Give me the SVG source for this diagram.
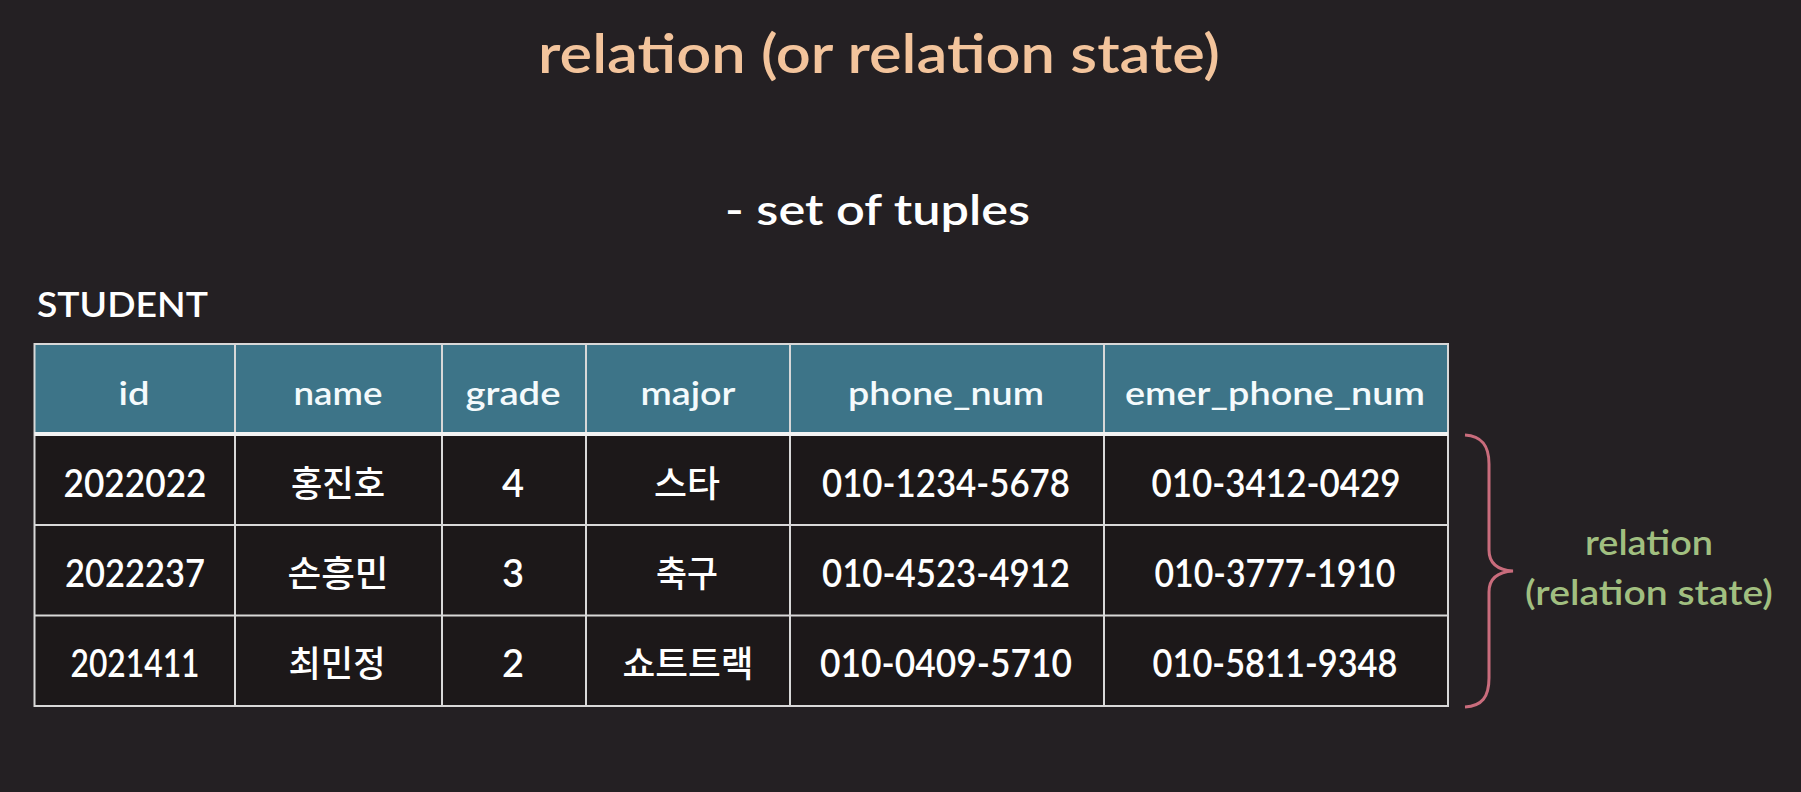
<svg xmlns="http://www.w3.org/2000/svg" width="1801" height="792" viewBox="0 0 1801 792">
<style>
  .lat { font-family: Lato, "Open Sans", "Liberation Sans", sans-serif; font-weight: 600; }
  .kr { font-family: Lato, "Noto Sans CJK KR", sans-serif; font-weight: 500; }
  .title { font-size: 54px; fill: #F3C49C; }
  .sub { font-size: 42px; fill: #FFFFFF; }
  .lbl { font-size: 34px; fill: #FFFFFF; }
  .hd { font-size: 32px; fill: #F4FAFC; text-anchor: middle; }
  .cell { font-size: 38px; fill: #FFFFFF; text-anchor: middle; }
  .krc { font-size: 36px; fill: #FFFFFF; text-anchor: middle; }
  .green { font-size: 34px; fill: #A1BF80; text-anchor: middle; }
  .grid { stroke: #D8D8D8; stroke-width: 2; fill: none; }
</style>
<rect x="0" y="0" width="1801" height="792" fill="#242023"/>

<text class="lat title" x="538" y="73" textLength="682" lengthAdjust="spacingAndGlyphs">relation (or relation state)</text>
<text class="lat sub" x="725" y="225" textLength="305" lengthAdjust="spacingAndGlyphs">- set of tuples</text>
<text class="lat lbl" x="37" y="317" textLength="171" lengthAdjust="spacingAndGlyphs">STUDENT</text>

<g id="student-table">
  <rect x="34.5" y="344" width="1413.5" height="90" fill="#3D7488"/>
  <rect x="34.5" y="434" width="1413.5" height="272" fill="#1C1819"/>
  <g class="grid">
    <rect x="34.5" y="344" width="1413.5" height="362"/>
    <line x1="34.5" y1="525" x2="1448" y2="525"/>
    <line x1="34.5" y1="615.5" x2="1448" y2="615.5"/>
    <line x1="235" y1="344" x2="235" y2="706"/>
    <line x1="442" y1="344" x2="442" y2="706"/>
    <line x1="586" y1="344" x2="586" y2="706"/>
    <line x1="790" y1="344" x2="790" y2="706"/>
    <line x1="1104" y1="344" x2="1104" y2="706"/>
  </g>
  <line x1="34.5" y1="434" x2="1448" y2="434" stroke="#F2F2F2" stroke-width="4"/>

  <g id="header">
    <text class="lat hd" x="134" y="405" textLength="31" lengthAdjust="spacingAndGlyphs">id</text>
    <text class="lat hd" x="338" y="405" textLength="89" lengthAdjust="spacingAndGlyphs">name</text>
    <text class="lat hd" x="513" y="405" textLength="95" lengthAdjust="spacingAndGlyphs">grade</text>
    <text class="lat hd" x="688" y="405" textLength="95" lengthAdjust="spacingAndGlyphs">major</text>
    <text class="lat hd" x="946" y="405" textLength="196" lengthAdjust="spacingAndGlyphs">phone_num</text>
    <text class="lat hd" x="1275" y="405" textLength="300" lengthAdjust="spacingAndGlyphs">emer_phone_num</text>
  </g>

  <g id="row1">
    <text class="lat cell" x="135" y="497" textLength="143" lengthAdjust="spacingAndGlyphs">2022022</text>
    <text class="kr krc" x="338" y="497" textLength="94" lengthAdjust="spacingAndGlyphs">홍진호</text>
    <text class="lat cell" x="513" y="497">4</text>
    <text class="kr krc" x="687" y="497" textLength="66" lengthAdjust="spacingAndGlyphs">스타</text>
    <text class="lat cell" x="946" y="497" textLength="248" lengthAdjust="spacingAndGlyphs">010-1234-5678</text>
    <text class="lat cell" x="1276" y="497" textLength="249" lengthAdjust="spacingAndGlyphs">010-3412-0429</text>
  </g>
  <g id="row2">
    <text class="lat cell" x="135" y="587" textLength="140" lengthAdjust="spacingAndGlyphs">2022237</text>
    <text class="kr krc" x="338" y="587" textLength="101" lengthAdjust="spacingAndGlyphs">손흥민</text>
    <text class="lat cell" x="513" y="587">3</text>
    <text class="kr krc" x="687" y="587" textLength="62" lengthAdjust="spacingAndGlyphs">축구</text>
    <text class="lat cell" x="946" y="587" textLength="248" lengthAdjust="spacingAndGlyphs">010-4523-4912</text>
    <text class="lat cell" x="1275" y="587" textLength="241" lengthAdjust="spacingAndGlyphs">010-3777-1910</text>
  </g>
  <g id="row3">
    <text class="lat cell" x="135" y="677" textLength="129" lengthAdjust="spacingAndGlyphs">2021411</text>
    <text class="kr krc" x="337" y="677" textLength="97" lengthAdjust="spacingAndGlyphs">최민정</text>
    <text class="lat cell" x="513" y="677">2</text>
    <text class="kr krc" x="688" y="677" textLength="131" lengthAdjust="spacingAndGlyphs">쇼트트랙</text>
    <text class="lat cell" x="946" y="677" textLength="252" lengthAdjust="spacingAndGlyphs">010-0409-5710</text>
    <text class="lat cell" x="1275" y="677" textLength="245" lengthAdjust="spacingAndGlyphs">010-5811-9348</text>
  </g>
</g>

<g id="connectors">
  <path id="brace" d="M1465,435 C1482,436 1489,446 1489,464 L1489,550 C1489,563 1497,570 1513,571 C1497,572 1489,579 1489,592 L1489,678 C1489,697 1482,706 1465,707" fill="none" stroke="#C96C7C" stroke-width="3"/>
</g>

<g id="relation-label">
  <text class="lat green" x="1649" y="555" textLength="128" lengthAdjust="spacingAndGlyphs">relation</text>
  <text class="lat green" x="1649" y="605" textLength="248" lengthAdjust="spacingAndGlyphs">(relation state)</text>
</g>
</svg>
